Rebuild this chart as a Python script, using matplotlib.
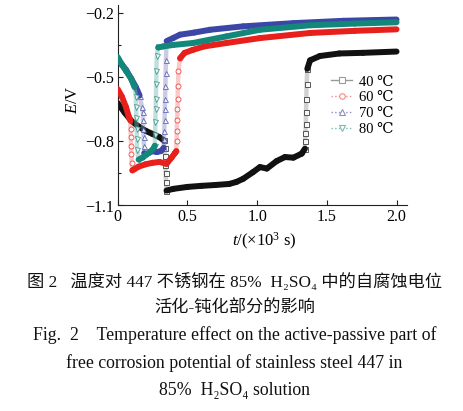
import numpy as np
import matplotlib
matplotlib.use("Agg")
import matplotlib.pyplot as plt
from matplotlib.lines import Line2D
from matplotlib.collections import LineCollection
from matplotlib.font_manager import FontProperties

# ---------------- data ----------------
t40 = [0, 0.05, 0.10, 0.15, 0.20, 0.25, 0.30, 0.33, 0.338, 0.340, 0.342, 0.344, 0.346, 0.35,
       0.40, 0.50, 0.60, 0.70, 0.80, 0.85, 0.90, 0.97, 1.02, 1.07, 1.14, 1.20, 1.26, 1.32, 1.343,
       1.345, 1.347, 1.349, 1.351, 1.353, 1.355, 1.36, 1.38, 1.45, 1.59, 1.76, 2.0]
e40 = [-0.62, -0.665, -0.705, -0.73, -0.75, -0.765, -0.78, -0.795, -0.83, -0.87, -0.91, -0.95, -0.99, -1.03,
       -1.022, -1.013, -1.008, -1.004, -0.999, -0.99, -0.975, -0.944, -0.92, -0.927, -0.892, -0.873, -0.876, -0.857, -0.834,
       -0.80, -0.76, -0.72, -0.66, -0.60, -0.53, -0.46, -0.42, -0.40, -0.388, -0.385, -0.379]

t60 = [0, 0.03, 0.06, 0.08, 0.09, 0.092, 0.094, 0.096, 0.098, 0.10, 0.105, 0.12, 0.15, 0.20, 0.25, 0.30,
       0.35, 0.386, 0.41, 0.42, 0.422, 0.424, 0.426, 0.428, 0.430, 0.432, 0.436, 0.447, 0.48, 0.54, 0.62,
       0.78, 1.02, 1.38, 1.7, 2.0]
e60 = [-0.555, -0.59, -0.64, -0.685, -0.70, -0.74, -0.78, -0.82, -0.86, -0.90, -0.935, -0.93, -0.918, -0.907, -0.90, -0.896,
       -0.905, -0.876, -0.855, -0.845, -0.80, -0.75, -0.70, -0.65, -0.60, -0.54, -0.47, -0.41, -0.385, -0.371, -0.355,
       -0.339, -0.316, -0.292, -0.282, -0.275]

t70 = [0, 0.03, 0.06, 0.10, 0.13, 0.157, 0.175, 0.18, 0.182, 0.184, 0.186, 0.188, 0.19, 0.20, 0.22, 0.25,
       0.28, 0.31, 0.33, 0.332, 0.334, 0.336, 0.338, 0.340, 0.342, 0.344, 0.346, 0.351, 0.40, 0.447, 0.55,
       0.662, 0.90, 1.26, 1.62, 2.0]
e70 = [-0.42, -0.44, -0.465, -0.51, -0.545, -0.585, -0.64, -0.66, -0.70, -0.74, -0.78, -0.82, -0.855, -0.86, -0.855, -0.845,
       -0.85, -0.845, -0.83, -0.79, -0.75, -0.70, -0.65, -0.60, -0.54, -0.48, -0.42, -0.33, -0.315, -0.30, -0.29,
       -0.277, -0.261, -0.246, -0.235, -0.229]

t80 = [0, 0.03, 0.06, 0.097, 0.12, 0.13, 0.132, 0.134, 0.136, 0.138, 0.14, 0.15, 0.18, 0.205, 0.23, 0.255,
       0.266, 0.268, 0.27, 0.272, 0.274, 0.276, 0.278, 0.28, 0.29, 0.327, 0.40, 0.54, 0.78, 1.02, 1.38, 1.7, 2.0]
e80 = [-0.405, -0.44, -0.47, -0.506, -0.545, -0.59, -0.64, -0.69, -0.74, -0.79, -0.84, -0.885, -0.875, -0.862, -0.85, -0.835,
       -0.82, -0.77, -0.71, -0.65, -0.60, -0.53, -0.47, -0.40, -0.36, -0.355, -0.348, -0.339, -0.308, -0.277, -0.256, -0.248, -0.242]

labels = ["40 ℃", "60 ℃", "70 ℃", "80 ℃"]
xticks = [0, 0.5, 1.0, 1.5, 2.0]
xticklabels = ["0", "0.5", "1.0", "1.5", "2.0"]
yticks = [-1.1, -0.8, -0.5, -0.2]
yticklabels = ["−1.1", "−0.8", "−0.5", "−0.2"]

caption = [
    "图 2   温度对 447 不锈钢在 85%  H₂SO₄ 中的自腐蚀电位",
    "活化-钝化部分的影响",
    "Fig.  2    Temperature effect on the active-passive part of",
    "free corrosion potential of stainless steel 447 in",
    "85%  H₂SO₄ solution",
]

# ---------------- style ----------------
colors = ["#111111", "#e8201c", "#3b46a6", "#12877a"]
light = ["#9a9a9a", "#f08a8a", "#8c8fc4", "#7ab9b0"]
markers = ["s", "o", "^", "v"]
lstyles = ["-", ":", ":", ":"]

plt.rcParams["font.family"] = ["Liberation Serif", "DejaVu Serif", "Noto Sans CJK SC"]
plt.rcParams["mathtext.fontset"] = "custom"
plt.rcParams["mathtext.rm"] = "Liberation Serif"
plt.rcParams["mathtext.it"] = "Liberation Serif:italic"

fig = plt.figure(figsize=(4.63, 4.11), dpi=100)
W, H = 463, 411
ax = fig.add_axes([117.7 / W, 1 - 205.5 / H, 289 / W, 200.5 / H])

series = [(t40, e40), (t60, e60), (t70, e70), (t80, e80)]
for i, (t, e) in enumerate(series):
    t = np.asarray(t, float)
    e = np.asarray(e, float)
    segs = np.stack([np.column_stack([t[:-1], e[:-1]]), np.column_stack([t[1:], e[1:]])], axis=1)
    slope = np.abs(np.diff(e) / np.diff(t))
    steep = slope > 3.0
    z = 2 + i
    ax.add_collection(LineCollection(segs[steep], colors=light[i], linewidths=3.2,
                                     alpha=0.45, zorder=z, capstyle="butt"))
    jidx = np.zeros(len(t), bool)
    jidx[:-1] |= steep
    jidx[1:] |= steep
    ax.plot(t[jidx], e[jidx], linestyle="none", marker=markers[i], ms=3.6,
            mfc="white", mec=colors[i], mew=0.6, alpha=0.8, zorder=z + 0.1)
    ax.add_collection(LineCollection(segs[~steep], colors=colors[i], linewidths=4.3,
                                     zorder=z + 0.2, capstyle="round", joinstyle="round"))

ax.set_xlim(0, 2.073)
ax.set_ylim(-1.1, -0.161)
for s in ["top", "right"]:
    ax.spines[s].set_visible(False)
for s in ["left", "bottom"]:
    ax.spines[s].set_linewidth(0.8)
    ax.spines[s].set_color("#222222")

ax.set_xticks(xticks)
ax.set_xticklabels(xticklabels)
ax.set_yticks(yticks)
ax.set_yticklabels(yticklabels)
ax.set_yticks([-0.95, -0.65, -0.35], minor=True)
ax.tick_params(axis="both", which="major", direction="in", length=3.5, width=0.8,
               labelsize=11.5, pad=2.5, color="#222222")
ax.tick_params(axis="y", which="minor", direction="in", length=2.2, width=0.8, color="#222222")

ax.set_ylabel(r"$E$/V", fontsize=12)
ax.yaxis.set_label_coords(-0.128, 0.53)
ax.set_xlabel(r"$t$/(×10$^3$ s)", fontsize=12)
ax.xaxis.set_label_coords(0.508, -0.125)

handles = [Line2D([], [], color=light[i], ls=lstyles[i], lw=1.0, marker=markers[i], ms=4,
                  mfc="white", mec=light[i], mew=0.8) for i in range(4)]
ax.legend(handles, labels, loc="upper left", bbox_to_anchor=(0.704, 0.70), frameon=False,
          prop=FontProperties(family=["Liberation Serif", "DejaVu Serif"], size=10.5),
          handlelength=1.4, handletextpad=0.5, labelspacing=0.18, borderpad=0.2)

# caption
cx = 234.5 / W
cy = [281.7, 308.3, 335, 363, 390]
fams = ["Liberation Serif", "DejaVu Serif", "Noto Sans CJK SC"]
for k, (txt, y) in enumerate(zip(caption, cy)):
    fig.text(cx, 1 - y / H, txt, ha="center", va="center",
             fontsize=12.4 if k < 2 else 12.8, family=fams, color="#111111")

fig.savefig("out.png", dpi=100)
